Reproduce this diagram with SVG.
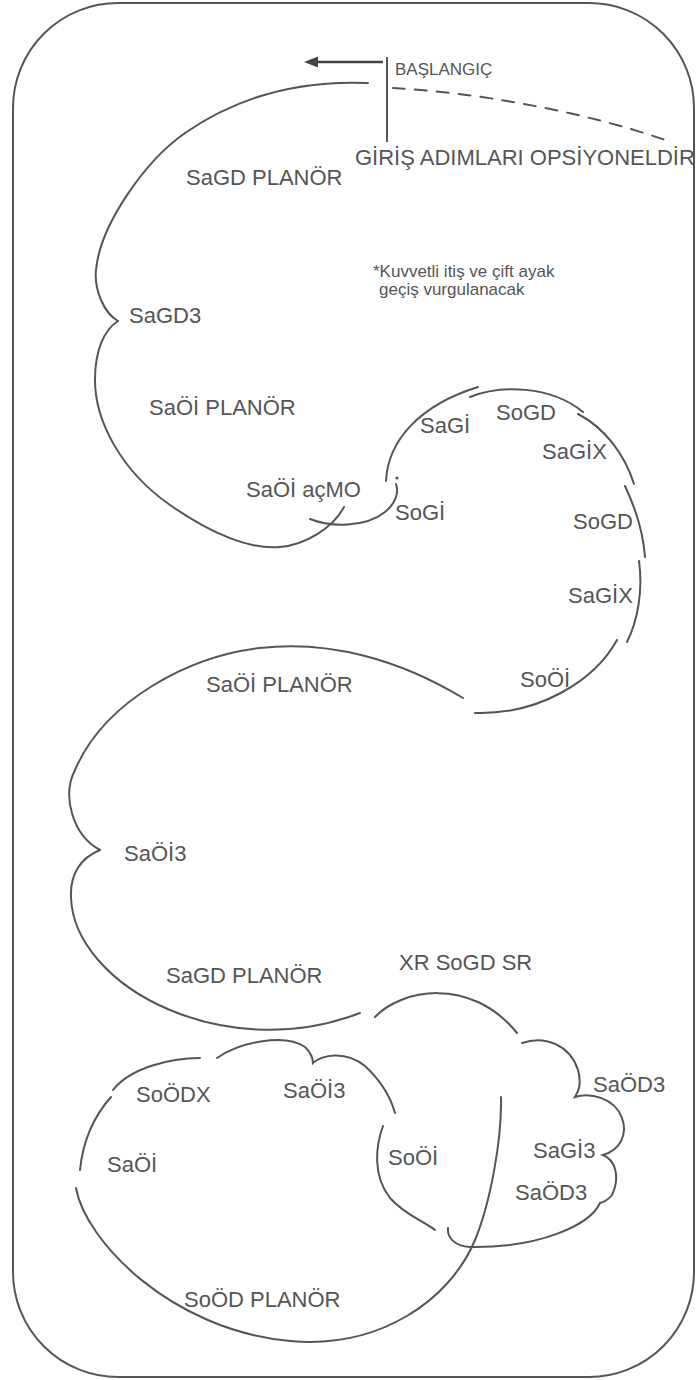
<svg xmlns="http://www.w3.org/2000/svg" width="696" height="1380" viewBox="0 0 696 1380">
<style>
.e{fill:none;stroke:#555;stroke-width:2;stroke-linecap:round}
.t{font-family:"Liberation Sans",Arial,sans-serif;font-size:22px;fill:#555}
.s{font-family:"Liberation Sans",Arial,sans-serif;font-size:17px;fill:#555}
</style>
<rect width="696" height="1380" fill="#fff"/>
<rect x="13" y="3" width="681" height="1374" rx="105" ry="105" fill="none" stroke="#555" stroke-width="2"/>
<g id="start">
<line x1="383" y1="62" x2="315" y2="62" stroke="#444" stroke-width="2.5"/>
<polygon points="304,62 318,56.5 318,67.5" fill="#444"/>
<line x1="387" y1="57" x2="387" y2="142" stroke="#555" stroke-width="2"/>
<path class="e" d="M393,88 C470,92 580,110 668,141" stroke-dasharray="12 10" stroke-width="2.5"/>
<text class="s" x="395" y="75">BAŞLANGIÇ</text>
<text class="t" x="355" y="165">GİRİŞ ADIMLARI OPSİYONELDİR</text>
</g>
<g id="note">
<text class="s" x="373" y="277">*Kuvvetli itiş ve çift ayak</text>
<text class="s" x="379" y="295">geçiş vurgulanacak</text>
</g>
<g id="edges">
<path class="e" d="M368,83 C300,80 240,95 185,133 C145,161 100,225 96,270 C94,290 104,313 118,321"/>
<path class="e" d="M118,321 C104,330 95,350 95,380 C95,420 120,470 170,505 C210,533 250,550 280,547 C305,545 333,528 344,507"/>
<path class="e" d="M310,519 C330,527 365,528 385,512 C396,503 399,492 396,484"/>
<circle cx="397" cy="478" r="1.6" fill="#555"/>
<path class="e" d="M386,481 C388,440 420,405 478,387"/>
<path class="e" d="M470,397 C500,385 550,385 583,412"/>
<path class="e" d="M578,414 C605,428 625,455 634,484"/>
<path class="e" d="M625,486 C634,505 643,530 645,557"/>
<path class="e" d="M639,561 C643,590 638,620 627,642"/>
<path class="e" d="M617,640 C595,680 540,715 475,713"/>
<path class="e" d="M463,698 C400,660 330,640 260,648 C190,656 105,700 75,770 C62,795 72,835 100,850"/>
<path class="e" d="M100,850 C80,858 70,875 71,897 C72,940 110,985 170,1010 C220,1031 290,1040 360,1013"/>
<path class="e" d="M375,1017 C400,990 470,975 517,1033"/>
<path class="e" d="M522,1043 C545,1035 570,1045 578,1070 C582,1085 578,1092 575,1097 C590,1092 615,1098 622,1118 C628,1135 620,1150 603,1155 C616,1160 620,1178 612,1195 C608,1200 604,1202 600,1203 C590,1225 540,1248 470,1247 C455,1246 447,1238 448,1228"/>
<path class="e" d="M383,1126 C376,1145 372,1175 390,1198 C405,1215 425,1222 435,1230"/>
<path class="e" d="M217,1058 C240,1042 285,1033 305,1047 C310,1052 313,1058 313,1063 C322,1055 345,1050 365,1066 C380,1080 390,1095 395,1113"/>
<path class="e" d="M200,1058 C170,1058 130,1068 113,1090"/>
<path class="e" d="M111,1097 C95,1115 83,1140 80,1170"/>
<path class="e" d="M76,1188 C85,1240 170,1330 290,1341 C380,1349 450,1300 475,1240 C490,1204 502,1140 501,1097"/>
</g>
<g id="labels">
<text class="t" x="186" y="185">SaGD PLANÖR</text>
<text class="t" x="129" y="323">SaGD3</text>
<text class="t" x="149" y="415">SaÖİ PLANÖR</text>
<text class="t" x="246" y="497">SaÖİ açMO</text>
<text class="t" x="420" y="433">SaGİ</text>
<text class="t" x="496" y="420">SoGD</text>
<text class="t" x="542" y="459">SaGİX</text>
<text class="t" x="395" y="520">SoGİ</text>
<text class="t" x="573" y="529">SoGD</text>
<text class="t" x="568" y="603">SaGİX</text>
<text class="t" x="520" y="687">SoÖİ</text>
<text class="t" x="206" y="692">SaÖİ PLANÖR</text>
<text class="t" x="124" y="861">SaÖİ3</text>
<text class="t" x="166" y="983">SaGD PLANÖR</text>
<text class="t" x="399" y="970">XR SoGD SR</text>
<text class="t" x="136" y="1102">SoÖDX</text>
<text class="t" x="283" y="1098">SaÖİ3</text>
<text class="t" x="593" y="1092">SaÖD3</text>
<text class="t" x="388" y="1165">SoÖİ</text>
<text class="t" x="533" y="1158">SaGİ3</text>
<text class="t" x="515" y="1200">SaÖD3</text>
<text class="t" x="107" y="1172">SaÖİ</text>
<text class="t" x="184" y="1307">SoÖD PLANÖR</text>
</g>
</svg>
